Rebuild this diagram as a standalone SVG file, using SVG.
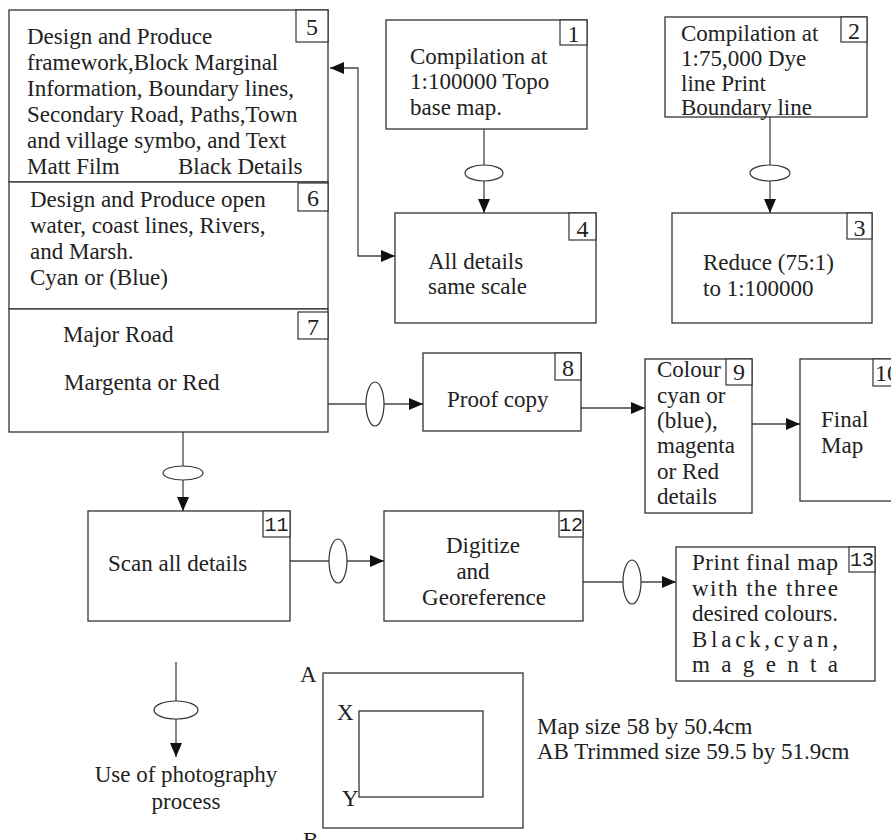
<svg xmlns="http://www.w3.org/2000/svg" width="891" height="840" viewBox="0 0 891 840">
<defs>
<style>
.box{fill:#fff;stroke:#333;stroke-width:1.3}
.nb{fill:#fff;stroke:#333;stroke-width:1.2}
.t{font-family:"Liberation Serif","Times New Roman",serif;font-size:23px;fill:#222}
.n{font-family:"Liberation Serif","Times New Roman",serif;font-size:24px;fill:#222;text-anchor:middle}
.m{font-family:"Liberation Mono","Courier New",monospace;font-size:20px;fill:#222;text-anchor:middle}
.c{fill:none;stroke:#444;stroke-width:1.3}
.ov{fill:#fff;stroke:#333;stroke-width:1.2}
.mid{text-anchor:middle}
</style>
<marker id="ah" viewBox="0 0 14 12" refX="14" refY="6" markerWidth="14" markerHeight="12" markerUnits="userSpaceOnUse" orient="auto-start-reverse">
<path d="M0,0 L14,6 L0,12 Z" fill="#111"/>
</marker>
</defs>
<rect width="891" height="840" fill="#fff"/>

<g id="connectors">
<path class="c" d="M330,68 H358 V256 H395" marker-start="url(#ah)" marker-end="url(#ah)"/>
<path class="c" d="M484,129 V213" marker-end="url(#ah)"/>
<ellipse class="ov" cx="484" cy="173" rx="19" ry="8"/>
<path class="c" d="M770,117 V213" marker-end="url(#ah)"/>
<ellipse class="ov" cx="770" cy="173" rx="20" ry="8"/>
<path class="c" d="M328,404 H423" marker-end="url(#ah)"/>
<ellipse class="ov" cx="375" cy="404" rx="9" ry="22"/>
<path class="c" d="M581,408 H645" marker-end="url(#ah)"/>
<path class="c" d="M752,424 H800" marker-end="url(#ah)"/>
<path class="c" d="M183,432 V511" marker-end="url(#ah)"/>
<ellipse class="ov" cx="183" cy="473" rx="20" ry="7"/>
<path class="c" d="M290,561 H384" marker-end="url(#ah)"/>
<ellipse class="ov" cx="338" cy="561" rx="9" ry="22"/>
<path class="c" d="M583,582 H676" marker-end="url(#ah)"/>
<ellipse class="ov" cx="632" cy="582" rx="9" ry="22"/>
<path class="c" d="M176,662 V757" marker-end="url(#ah)"/>
<ellipse class="ov" cx="176" cy="710" rx="22" ry="9"/>
</g>

<g id="node-5">
<rect class="box" x="9" y="10" width="319" height="172"/>
<rect class="nb" x="296" y="10" width="32" height="32"/>
<text class="n" x="312" y="35">5</text>
<text class="t" x="27" y="44">Design and Produce</text>
<text class="t" x="27" y="70">framework,Block Marginal</text>
<text class="t" x="27" y="96">Information, Boundary lines,</text>
<text class="t" x="27" y="122">Secondary Road, Paths,Town</text>
<text class="t" x="27" y="148">and village symbo, and Text</text>
<text class="t" x="27" y="174">Matt Film</text>
<text class="t" x="178" y="174">Black Details</text>
</g>

<g id="node-6">
<rect class="box" x="9" y="182" width="319" height="127"/>
<rect class="nb" x="298" y="183" width="30" height="28"/>
<text class="n" x="313" y="206">6</text>
<text class="t" x="30" y="207">Design and Produce open</text>
<text class="t" x="30" y="233">water, coast lines, Rivers,</text>
<text class="t" x="30" y="259">and Marsh.</text>
<text class="t" x="30" y="285">Cyan or (Blue)</text>
</g>

<g id="node-7">
<rect class="box" x="9" y="309" width="319" height="123"/>
<rect class="nb" x="298" y="312" width="30" height="27"/>
<text class="n" x="313" y="335">7</text>
<text class="t" x="63" y="342">Major Road</text>
<text class="t" x="64" y="390">Margenta or Red</text>
</g>

<g id="node-1">
<rect class="box" x="386" y="20" width="201" height="109"/>
<rect class="nb" x="560" y="20" width="27" height="25"/>
<text class="n" x="573.5" y="42">1</text>
<text class="t" x="410" y="64">Compilation at</text>
<text class="t" x="410" y="89">1:100000 Topo</text>
<text class="t" x="410" y="115">base map.</text>
</g>

<g id="node-2">
<rect class="box" x="665" y="17" width="202" height="100"/>
<rect class="nb" x="841" y="17" width="26" height="25"/>
<text class="n" x="854" y="39">2</text>
<text class="t" x="681" y="41">Compilation at</text>
<text class="t" x="681" y="66">1:75,000 Dye</text>
<text class="t" x="681" y="91">line Print</text>
<text class="t" x="681" y="115">Boundary line</text>
</g>

<g id="node-4">
<rect class="box" x="395" y="213" width="201" height="110"/>
<rect class="nb" x="569" y="213" width="27" height="27"/>
<text class="n" x="582.5" y="237">4</text>
<text class="t" x="428" y="269">All details</text>
<text class="t" x="428" y="294">same scale</text>
</g>

<g id="node-3">
<rect class="box" x="672" y="213" width="200" height="110"/>
<rect class="nb" x="847" y="213" width="25" height="26"/>
<text class="n" x="859.5" y="236">3</text>
<text class="t" x="703" y="270">Reduce (75:1)</text>
<text class="t" x="703" y="296">to 1:100000</text>
</g>

<g id="node-8">
<rect class="box" x="423" y="353" width="158" height="78"/>
<rect class="nb" x="555" y="353" width="26" height="27"/>
<text class="n" x="568" y="376">8</text>
<text class="t" x="447" y="407">Proof copy</text>
</g>

<g id="node-9">
<rect class="box" x="645" y="359" width="107" height="154"/>
<rect class="nb" x="726" y="359" width="26" height="26"/>
<text class="n" x="739" y="380">9</text>
<text class="t" x="657" y="377">Colour</text>
<text class="t" x="657" y="403">cyan or</text>
<text class="t" x="657" y="428">(blue),</text>
<text class="t" x="657" y="453">magenta</text>
<text class="t" x="657" y="479">or Red</text>
<text class="t" x="657" y="504">details</text>
</g>

<g id="node-10">
<rect class="box" x="800" y="359" width="110" height="142"/>
<rect class="nb" x="873" y="359" width="30" height="27"/>
<text class="t" x="875" y="381" style="font-size:24px">10</text>
<text class="t" x="821" y="427">Final</text>
<text class="t" x="821" y="453">Map</text>
</g>

<g id="node-11">
<rect class="box" x="88" y="511" width="202" height="110"/>
<rect class="nb" x="263" y="511" width="27" height="26"/>
<text class="m" x="276.5" y="531">11</text>
<text class="t" x="108" y="571">Scan all details</text>
</g>

<g id="node-12">
<rect class="box" x="384" y="511" width="199" height="110"/>
<rect class="nb" x="559" y="511" width="24" height="26"/>
<text class="m" x="571" y="531">12</text>
<text class="t mid" x="483" y="553">Digitize</text>
<text class="t mid" x="473" y="579">and</text>
<text class="t mid" x="484" y="605">Georeference</text>
</g>

<g id="node-13">
<rect class="box" x="676" y="547" width="199" height="134"/>
<rect class="nb" x="849" y="547" width="26" height="25"/>
<text class="m" x="862" y="566">13</text>
<text class="t" x="692" y="570" textLength="146" lengthAdjust="spacing">Print final map</text>
<text class="t" x="692" y="596" textLength="146" lengthAdjust="spacing">with the three</text>
<text class="t" x="692" y="621" textLength="146" lengthAdjust="spacing">desired colours.</text>
<text class="t" x="692" y="647" textLength="146" lengthAdjust="spacing">Black,cyan,</text>
<text class="t" x="692" y="672" textLength="146" lengthAdjust="spacing">magenta</text>
</g>

<g id="node-photo">
<text class="t mid" x="186" y="782">Use of photography</text>
<text class="t mid" x="186" y="809">process</text>
</g>

<g id="map-size">
<rect class="box" x="323" y="673" width="200" height="155"/>
<rect class="box" x="359" y="711" width="124" height="86"/>
<text class="t" x="300" y="682">A</text>
<text class="t" x="337" y="720">X</text>
<text class="t" x="342" y="806">Y</text>
<text class="t" x="303" y="848">B</text>
<text class="t" x="537" y="734">Map size 58 by 50.4cm</text>
<text class="t" x="537" y="759">AB Trimmed size 59.5 by 51.9cm</text>
</g>
</svg>
